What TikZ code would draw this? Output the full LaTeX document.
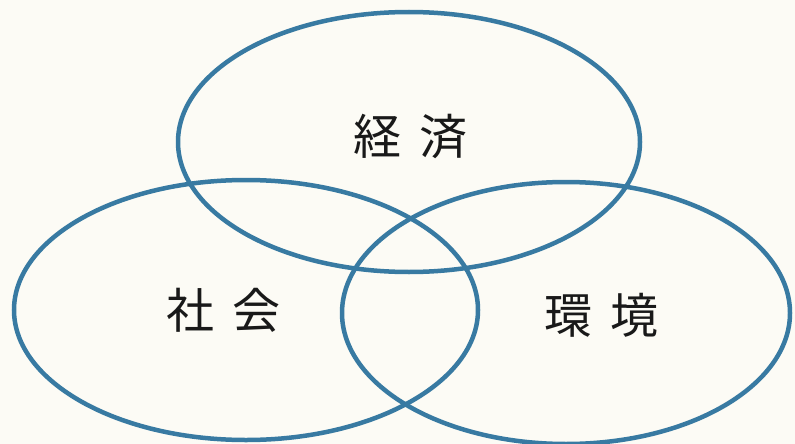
\documentclass[tikz,border=0pt]{standalone}
\usepackage{fontspec}
\setmainfont{Noto Sans CJK JP}
\usepackage{tikz}
\newcommand{\ringwidth}{4.5pt}
\usetikzlibrary{shapes.geometric}
\definecolor{ringblue}{RGB}{56,122,162}
\definecolor{paper}{RGB}{252,251,245}
\tikzstyle{ring}=[draw=ringblue, ellipse, line width=\ringwidth, inner sep=0, outer sep=0]
\tikzstyle{ringlabel}=[inner sep=0, font=\fontsize{48}{48}\selectfont, text=black!90]
\tikzstyle{venn}=[x=1pt, y=-1pt,
                  % Page the size of the reference.
                  execute at begin picture={\fill[paper] (0, 0) rectangle (795, 444);}]
\begin{document}
\begin{tikzpicture}[venn]
        \useasboundingbox (0, 0) rectangle (795, 444);
        \node[ring, minimum width=462pt, minimum height=260pt] (econ) at (409, 142) {};
        \node[ring, minimum width=464pt, minimum height=260pt] (soc) at (246, 310) {};
        \node[ring, minimum width=448pt, minimum height=262pt] (env) at (566, 313) {};
        \node[ringlabel] (econ label) at (410, 136) {経\hspace{18pt}済};
        \node[ringlabel] (soc label) at (223, 310) {社\hspace{18pt}会};
        \node[ringlabel] (env label) at (601, 315) {環\hspace{18pt}境};
    \end{tikzpicture}
\end{document}
